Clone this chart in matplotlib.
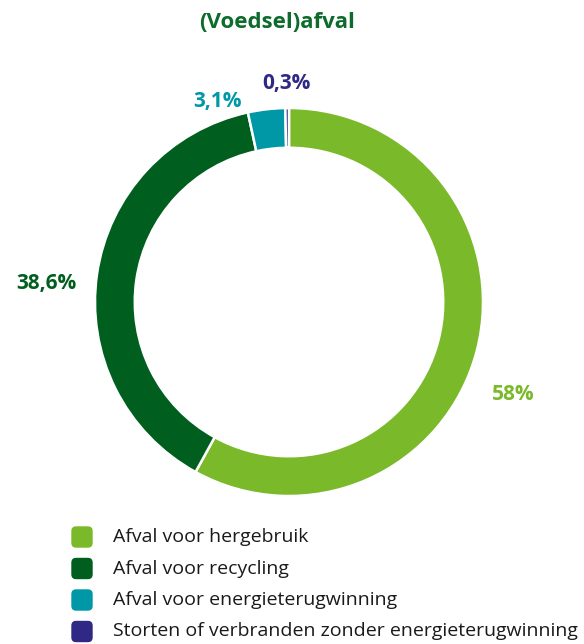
import matplotlib.pyplot as plt
from matplotlib.patches import FancyBboxPatch

plt.rcParams['font.family'] = ['Open Sans', 'DejaVu Sans']

# Data
categories = ['Afval voor hergebruik', 'Afval voor recycling',
              'Afval voor energieterugwinning',
              'Storten of verbranden zonder energieterugwinning']
shares = [58.0, 38.6, 3.1, 0.3]
share_labels = ['58%', '38,6%', '3,1%', '0,3%']
colors = ['#7ab929', '#005f1f', '#0097a7', '#2f2884']
title = '(Voedsel)afval'

W, H = 584, 644
fig = plt.figure(figsize=(W / 100, H / 100), dpi=100)

# donut axes: center (289, 302) px, radius 194 px
cx, cy, r, pad = 289, 302, 194, 205
ax = fig.add_axes([(cx - pad) / W, (H - cy - pad) / H, 2 * pad / W, 2 * pad / H])
ax.pie(shares, colors=colors, startangle=90, counterclock=False, radius=1,
       wedgeprops=dict(width=0.205, edgecolor='white', linewidth=1.8))
ax.set_xlim(-pad / r, pad / r)
ax.set_ylim(-pad / r, pad / r)
ax.set_aspect('equal')
ax.axis('off')

fig.text(277 / W, 1 - 22 / H, title, ha='center', va='center',
         fontsize=16, fontweight='bold', color='#0d6b2b')

# value labels (pixel positions of label centres)
label_pos = [(513, 395), (46, 283), (217, 101), (286, 83)]
for (px, py), lab, c in zip(label_pos, share_labels, colors):
    fig.text(px / W, 1 - py / H, lab, ha='center', va='center',
             fontsize=15, fontweight='bold', color=c)

# legend
for i, (cat, c) in enumerate(zip(categories, colors)):
    y = 537 + i * 31.5
    box = FancyBboxPatch(((72) / W, 1 - (y + 10) / H), 20 / W, 20 / H,
                         boxstyle='round,pad=0,rounding_size=0.007',
                         transform=fig.transFigure, color=c,
                         mutation_aspect=W / H)
    fig.patches.append(box)
    fig.text(113 / W, 1 - y / H, cat, ha='left', va='center',
             fontsize=14, color='#1a1a1a')

fig.savefig('out.png', dpi=100)
